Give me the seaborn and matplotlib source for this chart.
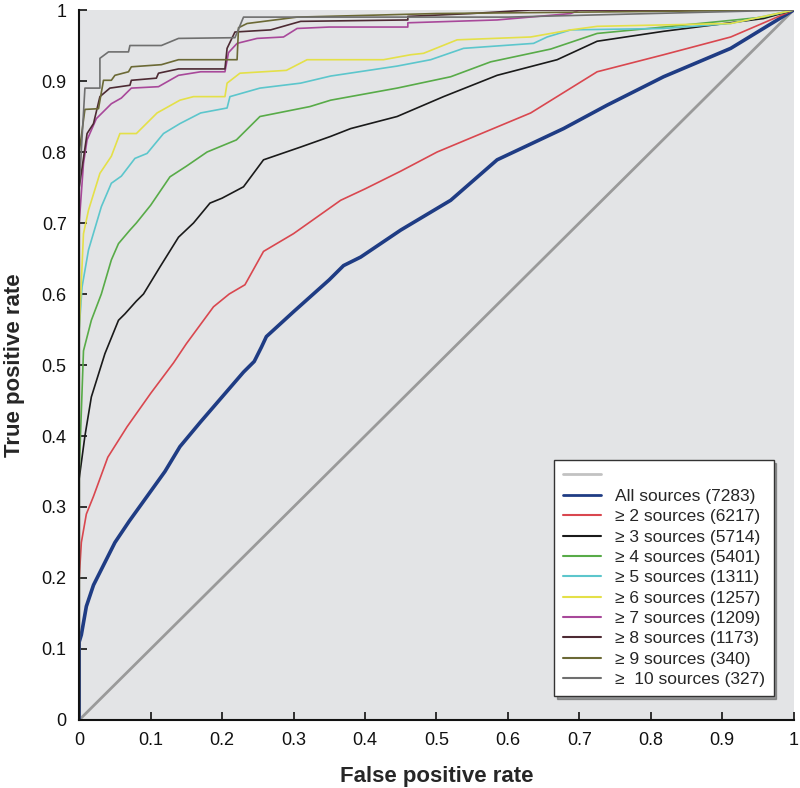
import seaborn as sns
import matplotlib.pyplot as plt
from matplotlib.lines import Line2D
import pandas as pd

# ROC curves (false positive rate, true positive rate)
all_x = [0, 0, 0.003, 0.01, 0.02, 0.035, 0.05, 0.07, 0.095, 0.12, 0.141, 0.17, 0.2, 0.23, 0.245, 0.255, 0.262, 0.3, 0.35, 0.37, 0.394, 0.45, 0.52, 0.585, 0.678, 0.739, 0.818, 0.912, 1]
all_y = [0, 0.11, 0.12, 0.16, 0.19, 0.22, 0.25, 0.28, 0.315, 0.35, 0.385, 0.42, 0.455, 0.49, 0.505, 0.525, 0.54, 0.575, 0.62, 0.64, 0.652, 0.69, 0.732, 0.789, 0.833, 0.866, 0.906, 0.946, 1]

s2_x = [0, 0, 0.003, 0.01, 0.02, 0.04, 0.067, 0.1, 0.132, 0.15, 0.188, 0.21, 0.232, 0.258, 0.3, 0.366, 0.4, 0.45, 0.501, 0.632, 0.725, 0.818, 0.912, 1]
s2_y = [0, 0.2, 0.25, 0.29, 0.315, 0.37, 0.413, 0.46, 0.503, 0.53, 0.582, 0.6, 0.613, 0.66, 0.685, 0.732, 0.748, 0.773, 0.8, 0.855, 0.913, 0.937, 0.962, 1]

s3_x = [0, 0, 0.008, 0.017, 0.036, 0.055, 0.064, 0.08, 0.09, 0.113, 0.139, 0.16, 0.183, 0.2, 0.23, 0.258, 0.31, 0.352, 0.38, 0.445, 0.51, 0.585, 0.669, 0.725, 0.818, 0.958, 1]
s3_y = [0, 0.34, 0.4, 0.455, 0.516, 0.563, 0.572, 0.59, 0.6, 0.638, 0.68, 0.7, 0.728, 0.735, 0.751, 0.789, 0.807, 0.822, 0.833, 0.85, 0.878, 0.908, 0.93, 0.956, 0.97, 0.988, 1]

s4_x = [0, 0, 0.006, 0.017, 0.031, 0.045, 0.055, 0.071, 0.08, 0.1, 0.127, 0.15, 0.179, 0.22, 0.253, 0.323, 0.352, 0.445, 0.52, 0.576, 0.66, 0.725, 0.818, 0.958, 1]
s4_y = [0, 0.35, 0.52, 0.563, 0.6, 0.648, 0.671, 0.69, 0.7, 0.725, 0.765, 0.78, 0.8, 0.817, 0.85, 0.864, 0.873, 0.89, 0.906, 0.927, 0.945, 0.967, 0.976, 0.99, 1]

s5_x = [0, 0, 0.004, 0.013, 0.031, 0.045, 0.059, 0.078, 0.095, 0.118, 0.141, 0.17, 0.207, 0.211, 0.253, 0.31, 0.352, 0.445, 0.492, 0.538, 0.636, 0.655, 0.688, 0.818, 0.912, 1]
s5_y = [0, 0.55, 0.61, 0.662, 0.723, 0.756, 0.766, 0.791, 0.798, 0.826, 0.84, 0.855, 0.862, 0.878, 0.89, 0.897, 0.907, 0.921, 0.93, 0.946, 0.953, 0.962, 0.972, 0.974, 0.981, 1]

s6_x = [0, 0, 0.006, 0.013, 0.029, 0.045, 0.057, 0.08, 0.085, 0.109, 0.141, 0.16, 0.204, 0.207, 0.225, 0.29, 0.319, 0.426, 0.464, 0.482, 0.529, 0.632, 0.688, 0.725, 0.912, 1]
s6_y = [0, 0.55, 0.685, 0.718, 0.77, 0.794, 0.826, 0.826, 0.831, 0.855, 0.873, 0.878, 0.878, 0.897, 0.911, 0.915, 0.93, 0.93, 0.937, 0.939, 0.958, 0.962, 0.972, 0.977, 0.981, 1]

s7_x = [0, 0, 0.006, 0.011, 0.024, 0.045, 0.059, 0.073, 0.111, 0.139, 0.17, 0.204, 0.209, 0.221, 0.249, 0.286, 0.305, 0.35, 0.46, 0.46, 0.585, 0.688, 0.7, 1]
s7_y = [0, 0.7, 0.784, 0.817, 0.847, 0.868, 0.876, 0.89, 0.892, 0.908, 0.913, 0.913, 0.94, 0.953, 0.96, 0.962, 0.974, 0.976, 0.976, 0.982, 0.986, 0.995, 1, 1]

s8_x = [0, 0, 0.011, 0.02, 0.029, 0.043, 0.071, 0.073, 0.108, 0.111, 0.139, 0.204, 0.207, 0.218, 0.268, 0.31, 0.46, 0.46, 0.548, 0.632, 1]
s8_y = [0, 0.75, 0.826, 0.84, 0.878, 0.89, 0.894, 0.901, 0.904, 0.911, 0.917, 0.917, 0.946, 0.969, 0.972, 0.984, 0.986, 0.991, 0.995, 1, 1]

s9_x = [0, 0, 0.008, 0.027, 0.034, 0.045, 0.05, 0.069, 0.073, 0.115, 0.139, 0.221, 0.223, 0.235, 0.305, 0.5, 1]
s9_y = [0, 0.8, 0.86, 0.861, 0.901, 0.901, 0.908, 0.913, 0.92, 0.923, 0.93, 0.93, 0.975, 0.981, 0.99, 0.995, 1]

s10_x = [0, 0, 0.008, 0.029, 0.029, 0.041, 0.069, 0.071, 0.115, 0.139, 0.218, 0.23, 0.6, 1]
s10_y = [0, 0.75, 0.89, 0.89, 0.932, 0.941, 0.941, 0.95, 0.95, 0.96, 0.961, 0.99, 0.99, 1]

labels = ["All sources (7283)", "\u2265 2 sources (6217)", "\u2265 3 sources (5714)",
          "\u2265 4 sources (5401)", "\u2265 5 sources (1311)", "\u2265 6 sources (1257)",
          "\u2265 7 sources (1209)", "\u2265 8 sources (1173)", "\u2265 9 sources (340)",
          "\u2265  10 sources (327)"]
colors = ["#1f3c84", "#d9474f", "#1a1a1a", "#58ab48", "#5cc6cc", "#e4e048",
          "#a8489a", "#4d2a33", "#6b6935", "#6f6f6f"]
curves = [(all_x, all_y), (s2_x, s2_y), (s3_x, s3_y), (s4_x, s4_y), (s5_x, s5_y),
          (s6_x, s6_y), (s7_x, s7_y), (s8_x, s8_y), (s9_x, s9_y), (s10_x, s10_y)]

sns.set_style("ticks")
plt.rcParams['font.family'] = ['Liberation Sans', 'DejaVu Sans']

fig = plt.figure(figsize=(8, 7.88), dpi=100)
ax = fig.add_axes([0.099, 0.0863, 0.893, 0.901])
ax.set_facecolor("#e3e4e6")

# chance line
diag = pd.DataFrame({"fpr": [0, 1], "tpr": [0, 1]})
sns.lineplot(data=diag, x="fpr", y="tpr", color="#9a9a9a", linewidth=2, ax=ax)

handles = [Line2D([], [], color="#c2c2c2", linewidth=2)]
for i, ((xs, ys), lab, col) in enumerate(zip(curves, labels, colors)):
    df = pd.DataFrame({"fpr": xs, "tpr": ys})
    lw = 2.6 if i == 0 else 1.2
    sns.lineplot(data=df, x="fpr", y="tpr", color=col, linewidth=lw,
                 sort=False, estimator=None, ax=ax)
    handles.append(Line2D([], [], color=col, linewidth=2 if i == 0 else 1.5))

ax.set_xlim(0, 1)
ax.set_ylim(0, 1)
ticks = [0, 0.1, 0.2, 0.3, 0.4, 0.5, 0.6, 0.7, 0.8, 0.9, 1]
ticklabels = ["0", "0.1", "0.2", "0.3", "0.4", "0.5", "0.6", "0.7", "0.8", "0.9", "1"]
ax.set_xticks(ticks)
ax.set_xticklabels(ticklabels)
ax.set_yticks(ticks)
ax.set_yticklabels(ticklabels)
ax.tick_params(direction="in", length=6, width=1.2, labelsize=13, pad=9, colors="#111111")
sns.despine(ax=ax)
for sp in ["left", "bottom"]:
    ax.spines[sp].set_linewidth(1.5)
    ax.spines[sp].set_color("#111111")

ax.set_xlabel("False positive rate", fontsize=16, fontweight="bold", labelpad=12)
ax.set_ylabel("True positive rate", fontsize=16, fontweight="bold", labelpad=12)

leg = ax.legend(handles, [""] + labels, loc="lower right", bbox_to_anchor=(0.972, 0.034),
                borderaxespad=0, fontsize=12.5, frameon=True, fancybox=False, shadow=True,
                handlelength=2.2, handletextpad=0.8, labelspacing=0.3, borderpad=0.5)
leg.get_frame().set_edgecolor("#333333")
leg.get_frame().set_linewidth(1)
leg.get_frame().set_facecolor("white")

fig.savefig("out.png", dpi=100)
